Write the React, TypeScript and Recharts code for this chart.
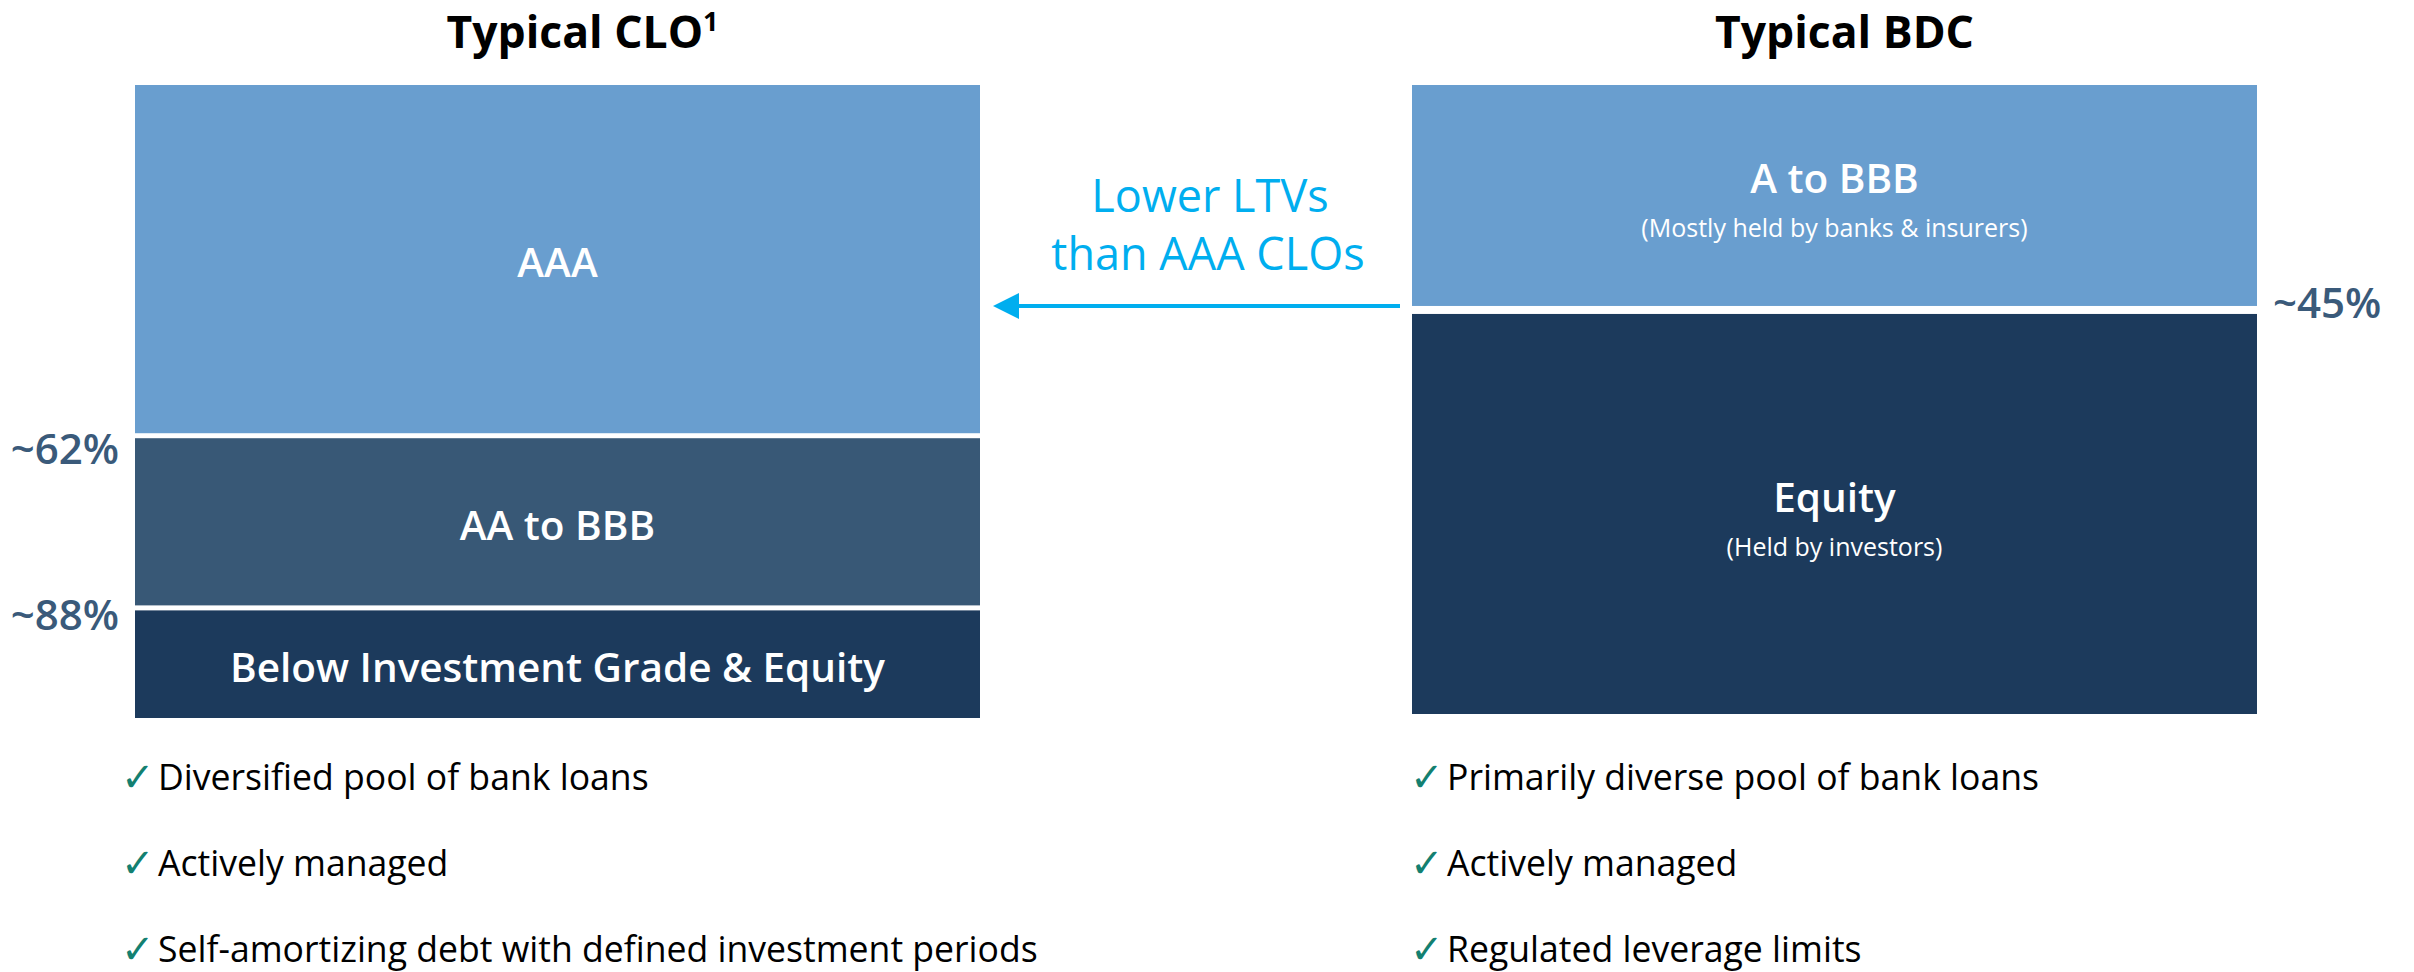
import React from 'react';
import { BarChart, Bar, XAxis, YAxis } from 'recharts';

// ---------- data ----------
const categories = ['Typical CLO', 'Typical BDC'];
const categoryNotes = ['1', ''];

const cloTranches = ['Below Investment Grade & Equity', 'AA to BBB', 'AAA'];
const cloNotes = ['', '', ''];
const cloShares = [17.0, 27.2, 55.8];
const cloAttachLabels = ['~88%', '~62%', ''];

const bdcTranches = ['Equity', 'A to BBB'];
const bdcNotes = ['(Held by investors)', '(Mostly held by banks & insurers)'];
const bdcShares = [63.6, 36.4];
const bdcAttachLabels = ['~45%', ''];

const cloFeatures = [
  'Diversified pool of bank loans',
  'Actively managed',
  'Self-amortizing debt with defined investment periods',
];
const bdcFeatures = [
  'Primarily diverse pool of bank loans',
  'Actively managed',
  'Regulated leverage limits',
];

const arrowText = ['Lower LTVs', 'than AAA CLOs'];

// ---------- styles ----------
const FONT = '"Open Sans", "Noto Sans", "DejaVu Sans", sans-serif';
const LIGHT = '#699ECF';
const MID = '#385876';
const DARK = '#1C3A5C';
const PCT_COLOR = '#3A5A7A';
const ARROW_COLOR = '#00AEEF';
const CHECK_COLOR = '#138070';

const panels = [
  {
    category: 0,
    tranches: cloTranches,
    notes: cloNotes,
    shares: cloShares,
    attach: cloAttachLabels,
    colors: [DARK, MID, LIGHT],
    left: 0,
    width: 1200,
    margin: { top: 25, right: 220, bottom: 254, left: 135 },
    gap: 5,
    attachSide: 'left',
    attachDy: [20, 26, 0],
    titleDx: 25,
  },
  {
    category: 1,
    tranches: bdcTranches,
    notes: bdcNotes,
    shares: bdcShares,
    attach: bdcAttachLabels,
    colors: [DARK, LIGHT],
    left: 1200,
    width: 1214,
    margin: { top: 25, right: 157, bottom: 258, left: 212 },
    gap: 8,
    attachSide: 'right',
    attachDy: [4, 0],
    titleDx: 10,
  },
];

type Panel = (typeof panels)[number];

function makeShape(p: Panel, i: number) {
  const isBottom = i === 0;
  return (props: any) => {
    const { x, y, width, height } = props;
    const h = isBottom ? height : height - p.gap;
    const cx = x + width / 2;
    const cy = y + h / 2;
    const label = p.tranches[i];
    const note = p.notes[i];
    const attach = p.attach[i];
    const leftSide = p.attachSide === 'left';
    return (
      <g>
        <rect x={x} y={y} width={width} height={h} fill={p.colors[i]} />
        {note ? (
          <>
            <text x={cx} y={cy - 2} textAnchor="middle" fill="#ffffff" fontSize={40.5} fontWeight={600} fontFamily={FONT}>
              {label}
            </text>
            <text x={cx} y={cy + 42} textAnchor="middle" fill="#ffffff" fontSize={25} fontFamily={FONT}>
              {note}
            </text>
          </>
        ) : (
          <text x={cx} y={cy + 18} textAnchor="middle" fill="#ffffff" fontSize={40.5} fontWeight={600} fontFamily={FONT}>
            {label}
          </text>
        )}
        {attach ? (
          <text
            x={leftSide ? x - 16 : x + width + 16}
            y={y + p.attachDy[i]}
            textAnchor={leftSide ? 'end' : 'start'}
            fill={PCT_COLOR}
            fontSize={42}
            fontWeight={600}
            fontFamily={FONT}
          >
            {attach}
          </text>
        ) : null}
      </g>
    );
  };
}

function PanelChart({ p }: { p: Panel }) {
  const row: any = { name: categories[p.category] };
  p.shares.forEach((v, i) => {
    row['t' + i] = v;
  });
  const data = [row];
  const sup = categoryNotes[p.category];
  return (
    <div style={{ position: 'absolute', left: p.left, top: 0 }}>
      <BarChart width={p.width} height={972} data={data} margin={p.margin} barCategoryGap={0} barGap={0}>
        <XAxis
          dataKey="name"
          orientation="top"
          height={60}
          axisLine={false}
          tickLine={false}
          interval={0}
          tick={(props: any) => (
            <text
              x={props.x + p.titleDx}
              y={props.y - 29}
              textAnchor="middle"
              fill="#000000"
              fontSize={44.5}
              fontWeight={700}
              fontFamily={FONT}
            >
              {props.payload.value}
              {sup ? (
                <tspan fontSize={27} dy={-17}>
                  {sup}
                </tspan>
              ) : null}
            </text>
          )}
        />
        <YAxis hide type="number" domain={[0, 'dataMax']} />
        {p.shares.map((_, i) => (
          <Bar
            key={i}
            dataKey={'t' + i}
            stackId="s"
            fill={p.colors[i]}
            isAnimationActive={false}
            shape={makeShape(p, i)}
          />
        ))}
      </BarChart>
    </div>
  );
}

function FeatureList({ items, x }: { items: string[]; x: number }) {
  const baselines = [790, 876, 962];
  return (
    <g>
      {items.map((t, i) => (
        <g key={i}>
          <text x={x - 2} y={baselines[i] + 1} fill={CHECK_COLOR} fontSize={40} fontFamily='"DejaVu Sans", sans-serif'>
            ✓
          </text>
          <text x={x + 35} y={baselines[i]} fill="#000000" fontSize={35.6} fontFamily={FONT}>
            {t}
          </text>
        </g>
      ))}
    </g>
  );
}

export default function App() {
  return (
    <div style={{ position: 'absolute', left: 0, top: 0, width: 2414, height: 972, background: '#ffffff', overflow: 'hidden' }}>
      {panels.map((p) => (
        <PanelChart key={p.category} p={p} />
      ))}
      <svg width={2414} height={972} style={{ position: 'absolute', left: 0, top: 0, pointerEvents: 'none' }}>
        <text x={1210} y={212} textAnchor="middle" fill={ARROW_COLOR} fontSize={45} fontFamily={FONT}>
          {arrowText[0]}
        </text>
        <text x={1208} y={270} textAnchor="middle" fill={ARROW_COLOR} fontSize={45} fontFamily={FONT}>
          {arrowText[1]}
        </text>
        <line x1={1400} y1={306} x2={1015} y2={306} stroke={ARROW_COLOR} strokeWidth={4} />
        <polygon points="993,306 1019,293 1019,319" fill={ARROW_COLOR} />
        <FeatureList items={cloFeatures} x={123} />
        <FeatureList items={bdcFeatures} x={1412} />
      </svg>
    </div>
  );
}
